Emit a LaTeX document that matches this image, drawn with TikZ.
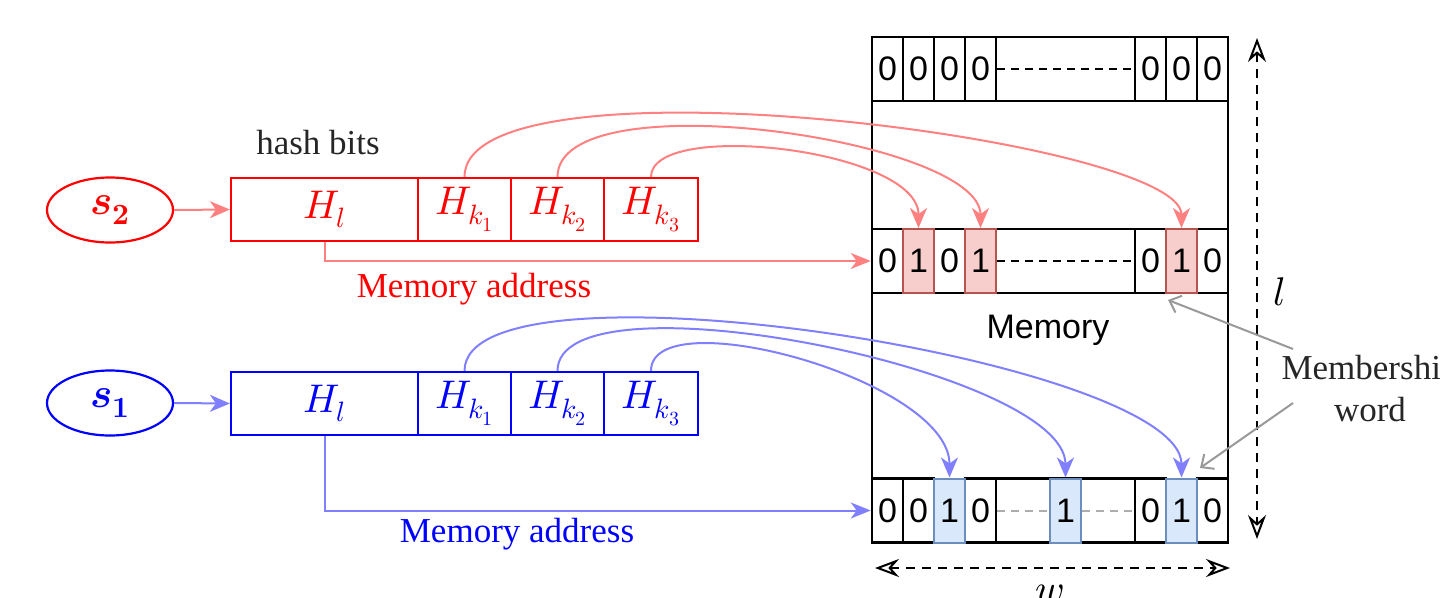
\documentclass[tikz,border=0pt]{standalone}
\usepackage{unicode-math}
\setmainfont{Liberation Serif}
\setmathfont{Latin Modern Math}
\newfontfamily\cellfont{Liberation Sans}
\usetikzlibrary{arrows.meta,shapes.geometric}

\definecolor{hotred}{RGB}{255,0,0}
\definecolor{softred}{RGB}{255,128,128}
\definecolor{hotblue}{RGB}{0,0,255}
\definecolor{softblue}{RGB}{128,128,255}
\definecolor{setfillr}{HTML}{F8CECC}
\definecolor{setdrawr}{HTML}{B85450}
\definecolor{setfillb}{HTML}{DAE8FC}
\definecolor{setdrawb}{HTML}{6C8EBF}
\definecolor{notegray}{HTML}{999999}

\tikzset{
  bit/.style={draw=black, line width=2.5pt, minimum width=31pt, minimum height=64pt,
    inner sep=0pt, font=\cellfont\fontsize{34}{34}\selectfont},
  gapcell/.style={bit, minimum width=139pt},
  redbit/.style={bit, fill=setfillr, draw=setdrawr, line width=2pt},
  bluebit/.style={bit, fill=setfillb, draw=setdrawb, line width=2pt},
  hcell/.style={draw=#1, text=#1, line width=2.2pt, minimum height=63pt, inner sep=0pt,
    font=\fontsize{40}{44}\selectfont},
  seed/.style={ellipse, draw=#1, text=#1, line width=2.2pt, minimum width=126pt,
    minimum height=65pt, inner sep=0pt, font=\fontsize{42}{44}\selectfont},
  feed/.style={draw=#1, line width=2pt, -{Stealth[length=20pt,width=17pt,inset=6pt]}},
  route/.style={draw=#1, line width=2pt, -{Stealth[length=20pt,width=16pt,inset=6pt]}},
  dim/.style={draw=black, line width=2pt, dash pattern=on 9pt off 7pt,
    {Stealth[open,length=24pt,width=18pt,inset=8pt]}-{Stealth[open,length=24pt,width=18pt,inset=8pt]}},
  pointer/.style={draw=notegray, line width=2pt, -{Straight Barb[length=10pt,width=18pt]}},
  dots/.style={draw=black, line width=2pt, dash pattern=on 8pt off 6pt},
  greydots/.style={draw=notegray!80, line width=2pt, dash pattern=on 8pt off 6pt},
  caption/.style={font=\fontsize{35}{42}\selectfont, inner sep=0pt},
}

\begin{document}
\begin{tikzpicture}[x=1pt,y=-1pt]
\useasboundingbox (0,0) rectangle (1440,597);
\fill[white] (0,0) rectangle (1440,597);

% memory block
\node[draw, line width=2.5pt, minimum width=356pt, minimum height=506pt, inner sep=0pt] (mem) at (1050,290) {};
\node[font=\cellfont\fontsize{34}{34}\selectfont] (memlabel) at (1048,330) {Memory};

% first word
\node[bit] (t0) at (887.5,69) {0};
\node[bit] (t1) at (918.5,69) {0};
\node[bit] (t2) at (949.5,69) {0};
\node[bit] (t3) at (980.5,69) {0};
\node[gapcell] (tg) at (1065.5,69) {};
\node[bit] (t5) at (1150.5,69) {0};
\node[bit] (t6) at (1181.5,69) {0};
\node[bit] (t7) at (1212.5,69) {0};
\draw[dots] (t3.east) -- (t5.west);

% word selected by s2
\node[bit] (m0) at (887.5,261) {0};
\node[bit] (m2) at (949.5,261) {0};
\node[gapcell] (mg) at (1065.5,261) {};
\node[bit] (m5) at (1150.5,261) {0};
\node[bit] (m7) at (1212.5,261) {0};
\node[redbit] (m1) at (918.5,261) {1};
\node[redbit] (m3) at (980.5,261) {1};
\node[redbit] (m6) at (1181.5,261) {1};
\draw[dots] (m3.east) -- (m5.west);

% word selected by s1
\node[bit] (b0) at (887.5,510.5) {0};
\node[bit] (b1) at (918.5,510.5) {0};
\node[bit] (b3) at (980.5,510.5) {0};
\node[gapcell] (bg) at (1065.5,510.5) {};
\node[bit] (b5) at (1150.5,510.5) {0};
\node[bit] (b7) at (1212.5,510.5) {0};
\node[bluebit] (b2) at (949.5,510.5) {1};
\node[bluebit] (bm) at (1065.5,510.5) {1};
\node[bluebit] (b6) at (1181.5,510.5) {1};
\draw[greydots] (b3.east) -- (bm.west);
\draw[greydots] (bm.east) -- (b5.west);

% dimensions
\coordinate (ltop) at (1257,38);
\coordinate (lbot) at (1257,539);
\draw[dim] (ltop) -- (lbot);
\node[font=\fontsize{40}{42}\selectfont] (lname) at (1279,292) {$l$};
\coordinate (wleft) at (875,568);
\coordinate (wright) at (1230,568);
\draw[dim] (wleft) -- (wright);
\node[font=\fontsize{40}{42}\selectfont, anchor=base] (wname) at (1050,602) {$w$};

% membership word note
\node[caption, align=center, text=black!85] (memb) at (1370,389) {Membership\\word};
\coordinate (mtailA) at (1293,349);
\coordinate (mheadA) at (1168,300);
\coordinate (mtailB) at (1293,403);
\coordinate (mheadB) at (1200,468);
\draw[pointer] (mtailA) -- (mheadA);
\draw[pointer] (mtailB) -- (mheadB);

% element s2
\node[caption, text=black!85] (hbits) at (318,143) {hash bits};
\node[seed=hotred] (s2) at (110,210) {$\symbfit{s}_{\symbf{2}}$};
\node[hcell=hotred, minimum width=187pt] (rhl) at (324.5,209.5) {$H_l$};
\node[hcell=hotred, minimum width=93pt] (rk1) at (464.5,209.5) {$H_{k_1}$};
\node[hcell=hotred, minimum width=93pt] (rk2) at (557.5,209.5) {$H_{k_2}$};
\node[hcell=hotred, minimum width=94pt] (rk3) at (651,209.5) {$H_{k_3}$};
\draw[feed=softred] (s2.east) -- (rhl.west);
\draw[route=softred] (rhl.south) |- (m0.west);
\node[caption, text=hotred] (raddr) at (474,289) {Memory address};
\draw[feed=softred] (rk1.north) .. controls +(0,-128) and +(0,-89) .. (m6.north);
\draw[feed=softred] (rk2.north) .. controls +(0,-98) and +(0,-89) .. (m3.north);
\draw[feed=softred] (rk3.north) .. controls +(0,-58) and +(0,-79) .. (m1.north);

% element s1
\node[seed=hotblue] (s1) at (110,403) {$\symbfit{s}_{\symbf{1}}$};
\node[hcell=hotblue, minimum width=187pt] (bhl) at (324.5,403.5) {$H_l$};
\node[hcell=hotblue, minimum width=93pt] (bk1) at (464.5,403.5) {$H_{k_1}$};
\node[hcell=hotblue, minimum width=93pt] (bk2) at (557.5,403.5) {$H_{k_2}$};
\node[hcell=hotblue, minimum width=94pt] (bk3) at (651,403.5) {$H_{k_3}$};
\draw[feed=softblue] (s1.east) -- (bhl.west);
\draw[route=softblue] (bhl.south) |- (b0.west);
\node[caption, text=hotblue] (baddr) at (517,534) {Memory address};
\draw[feed=softblue] (bk1.north) .. controls +(0,-122) and +(0,-118) .. (b6.north);
\draw[feed=softblue] (bk2.north) .. controls +(0,-102) and +(0,-108) .. (bm.north);
\draw[feed=softblue] (bk3.north) .. controls +(0,-72) and +(0,-98) .. (b2.north);
\end{tikzpicture}
\end{document}
